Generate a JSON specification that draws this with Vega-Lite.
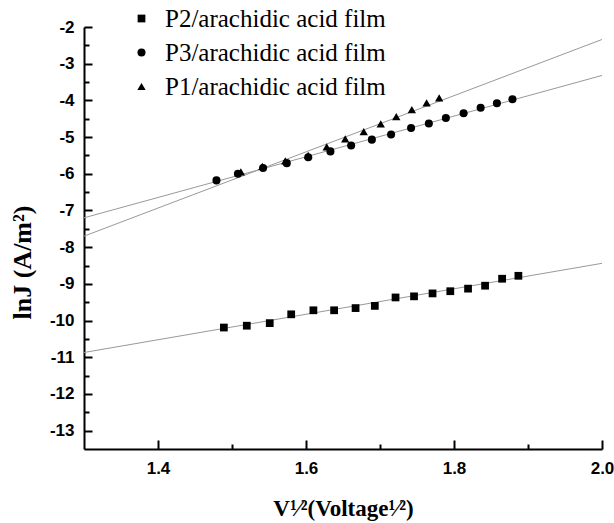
{
  "$schema": "https://vega.github.io/schema/vega-lite/v6.json",
  "width": 518,
  "height": 422,
  "autosize": {"type": "none"},
  "padding": {"left": 84, "top": 27, "right": 12, "bottom": 74},
  "background": "white",
  "config": {
    "view": {"stroke": null},
    "axis": {
      "grid": false,
      "domain": true,
      "ticks": true,
      "domainColor": "black",
      "domainWidth": 2,
      "tickColor": "black",
      "tickWidth": 2,
      "labelFont": "Liberation Sans",
      "labelFontWeight": "bold",
      "labelFontSize": 17,
      "labelColor": "black",
      "labelFlush": false,
      "labelOverlap": false,
      "titleFont": "Liberation Serif",
      "titleFontWeight": "bold",
      "titleColor": "black"
    },
    "legend": {
      "labelFont": "Liberation Serif",
      "labelFontSize": 25,
      "labelColor": "black",
      "labelLimit": 0,
      "symbolFillColor": "black",
      "symbolStrokeColor": "black",
      "symbolStrokeWidth": 0,
      "padding": 0,
      "rowPadding": 8,
      "labelOffset": 11
    }
  },
  "datasets": {
    "points": [
      {"series": "P2/arachidic acid film", "x": 1.489, "y": -10.19},
      {"series": "P2/arachidic acid film", "x": 1.520, "y": -10.14},
      {"series": "P2/arachidic acid film", "x": 1.551, "y": -10.07},
      {"series": "P2/arachidic acid film", "x": 1.580, "y": -9.83},
      {"series": "P2/arachidic acid film", "x": 1.610, "y": -9.72},
      {"series": "P2/arachidic acid film", "x": 1.638, "y": -9.72},
      {"series": "P2/arachidic acid film", "x": 1.667, "y": -9.66},
      {"series": "P2/arachidic acid film", "x": 1.693, "y": -9.60},
      {"series": "P2/arachidic acid film", "x": 1.721, "y": -9.37},
      {"series": "P2/arachidic acid film", "x": 1.746, "y": -9.34},
      {"series": "P2/arachidic acid film", "x": 1.771, "y": -9.26},
      {"series": "P2/arachidic acid film", "x": 1.795, "y": -9.20},
      {"series": "P2/arachidic acid film", "x": 1.819, "y": -9.13},
      {"series": "P2/arachidic acid film", "x": 1.842, "y": -9.05},
      {"series": "P2/arachidic acid film", "x": 1.865, "y": -8.86},
      {"series": "P2/arachidic acid film", "x": 1.887, "y": -8.78},
      {"series": "P3/arachidic acid film", "x": 1.479, "y": -6.18},
      {"series": "P3/arachidic acid film", "x": 1.508, "y": -6.00},
      {"series": "P3/arachidic acid film", "x": 1.542, "y": -5.84},
      {"series": "P3/arachidic acid film", "x": 1.574, "y": -5.71},
      {"series": "P3/arachidic acid film", "x": 1.603, "y": -5.55},
      {"series": "P3/arachidic acid film", "x": 1.633, "y": -5.39},
      {"series": "P3/arachidic acid film", "x": 1.661, "y": -5.23},
      {"series": "P3/arachidic acid film", "x": 1.689, "y": -5.07},
      {"series": "P3/arachidic acid film", "x": 1.715, "y": -4.93},
      {"series": "P3/arachidic acid film", "x": 1.742, "y": -4.75},
      {"series": "P3/arachidic acid film", "x": 1.766, "y": -4.63},
      {"series": "P3/arachidic acid film", "x": 1.789, "y": -4.48},
      {"series": "P3/arachidic acid film", "x": 1.813, "y": -4.35},
      {"series": "P3/arachidic acid film", "x": 1.836, "y": -4.20},
      {"series": "P3/arachidic acid film", "x": 1.858, "y": -4.08},
      {"series": "P3/arachidic acid film", "x": 1.879, "y": -3.97},
      {"series": "P1/arachidic acid film", "x": 1.512, "y": -5.95},
      {"series": "P1/arachidic acid film", "x": 1.541, "y": -5.80},
      {"series": "P1/arachidic acid film", "x": 1.572, "y": -5.65},
      {"series": "P1/arachidic acid film", "x": 1.603, "y": -5.50},
      {"series": "P1/arachidic acid film", "x": 1.628, "y": -5.27},
      {"series": "P1/arachidic acid film", "x": 1.653, "y": -5.05},
      {"series": "P1/arachidic acid film", "x": 1.678, "y": -4.85},
      {"series": "P1/arachidic acid film", "x": 1.701, "y": -4.64},
      {"series": "P1/arachidic acid film", "x": 1.722, "y": -4.44},
      {"series": "P1/arachidic acid film", "x": 1.743, "y": -4.25},
      {"series": "P1/arachidic acid film", "x": 1.763, "y": -4.07},
      {"series": "P1/arachidic acid film", "x": 1.780, "y": -3.93}
    ],
    "fits": [
      {"fit": "P2", "x": 1.3, "y": -10.87},
      {"fit": "P2", "x": 2.0, "y": -8.44},
      {"fit": "P3", "x": 1.3, "y": -7.2},
      {"fit": "P3", "x": 2.0, "y": -3.32},
      {"fit": "P1", "x": 1.3, "y": -7.7},
      {"fit": "P1", "x": 2.0, "y": -2.34}
    ]
  },
  "encoding": {
    "x": {
      "field": "x",
      "type": "quantitative",
      "scale": {"domain": [1.3, 2.0], "nice": false, "zero": false},
      "axis": {
        "values": [1.4, 1.5, 1.6, 1.7, 1.8, 1.9, 2.0],
        "labelExpr": "abs(datum.value*5 - round(datum.value*5)) < 0.001 ? format(datum.value, '.1f') : ''",
        "tickSize": {"condition": {"test": "abs(datum.value*5 - round(datum.value*5)) < 0.001", "value": -9}, "value": -5},
        "labelPadding": 20,
        "title": "V¹⁄²(Voltage¹⁄²)",
        "titleFontSize": 23,
        "titleBaseline": "alphabetic",
        "titleY": 66
      }
    },
    "y": {
      "field": "y",
      "type": "quantitative",
      "scale": {"domain": [-13.5, -2], "nice": false, "zero": false},
      "axis": {
        "values": [-13, -12.5, -12, -11.5, -11, -10.5, -10, -9.5, -9, -8.5, -8, -7.5, -7, -6.5, -6, -5.5, -5, -4.5, -4, -3.5, -3, -2.5, -2],
        "labelExpr": "datum.value % 1 == 0 ? '-' + abs(datum.value) : ''",
        "tickSize": {"condition": {"test": "datum.value % 1 == 0", "value": -8}, "value": -5},
        "labelPadding": 18,
        "title": "lnJ (A/m²)",
        "titleFontSize": 26,
        "titleBaseline": "middle",
        "titleX": -62,
        "titleY": 235
      }
    }
  },
  "layer": [
    {
      "data": {"name": "fits"},
      "mark": {"type": "line", "color": "#999999", "strokeWidth": 1, "clip": true},
      "encoding": {"detail": {"field": "fit"}}
    },
    {
      "data": {"name": "points"},
      "mark": {"type": "point", "filled": true, "color": "black", "opacity": 1},
      "encoding": {
        "shape": {
          "field": "series",
          "type": "nominal",
          "scale": {
            "domain": ["P2/arachidic acid film", "P3/arachidic acid film", "P1/arachidic acid film"],
            "range": ["square", "circle", "triangle-up"]
          },
          "legend": {"title": null, "orient": "none", "legendX": 45, "legendY": -21}
        },
        "size": {
          "field": "series",
          "type": "nominal",
          "scale": {
            "domain": ["P2/arachidic acid film", "P3/arachidic acid film", "P1/arachidic acid film"],
            "range": [60, 70, 200]
          },
          "legend": {"title": null, "orient": "none", "legendX": 45, "legendY": -21}
        }
      }
    }
  ]
}
